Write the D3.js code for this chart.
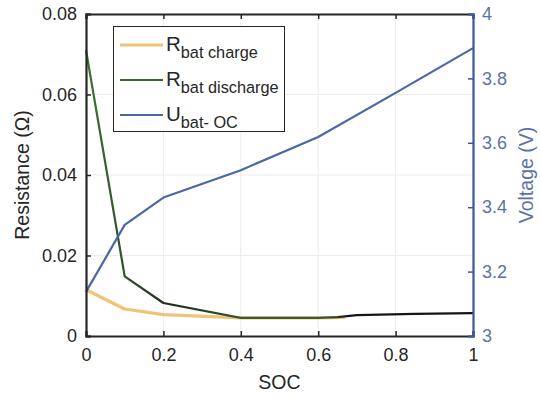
<!DOCTYPE html>
<html>
<head>
<meta charset="utf-8">
<script src="https://cdn.jsdelivr.net/npm/d3@7"></script>
<style>
  html, body { margin: 0; padding: 0; background: #fff; }
  svg { display: block; font-family: "Liberation Sans", Arial, sans-serif; }
</style>
</head>
<body>
<svg id="chart" width="540" height="398"></svg>
<script>
// State of charge samples and the measured battery quantities
const socCharge = [0, 0.1, 0.2, 0.4, 0.6, 0.67];
const rCharge = [0.0115, 0.0067, 0.0053, 0.0045, 0.0045, 0.0046];

const socDischarge = [0, 0.1, 0.2, 0.4, 0.6, 0.65, 0.7, 0.85, 1];
const rDischarge = [0.071, 0.0148, 0.0082, 0.0045, 0.0045, 0.0047, 0.0052, 0.0055, 0.0057];

const socVoltage = [0, 0.1, 0.2, 0.4, 0.6, 0.8, 1];
const uOC = [3.137, 3.345, 3.43, 3.515, 3.618, 3.755, 3.894];

const xTicks = [0, 0.2, 0.4, 0.6, 0.8, 1];
const rTicks = [0, 0.02, 0.04, 0.06, 0.08];
const vTicks = [3, 3.2, 3.4, 3.6, 3.8, 4];

const svg = d3.select("#chart");
const plotL = 86, plotR = 473, plotT = 14, plotB = 336;

const x = d3.scaleLinear().domain([0, 1]).range([plotL, plotR]);
const yR = d3.scaleLinear().domain([0, 0.08]).range([plotB, plotT]);
const yV = d3.scaleLinear().domain([3, 4]).range([plotB, plotT]);

const axisColor = "#262626";
const vColor = "#3d559c";
const vText = "#5c72a6";

// light grid
const grid = svg.append("g").attr("stroke", "#ececec").attr("stroke-width", 1);
xTicks.slice(1, -1).forEach(t => grid.append("line")
  .attr("x1", x(t)).attr("x2", x(t)).attr("y1", plotT).attr("y2", plotB));
rTicks.slice(1, -1).forEach(t => grid.append("line")
  .attr("x1", plotL).attr("x2", plotR).attr("y1", yR(t)).attr("y2", yR(t)));

// data lines
const lineR = (xs, ys) => d3.line().x((d, i) => x(xs[i])).y((d, i) => yR(ys[i]))(xs);

const defs = svg.append("defs");
const grad = defs.append("linearGradient").attr("id", "dischargeGrad")
  .attr("gradientUnits", "userSpaceOnUse")
  .attr("x1", x(0)).attr("x2", x(1)).attr("y1", 0).attr("y2", 0);
grad.append("stop").attr("offset", 0).attr("stop-color", "#3f7236");
grad.append("stop").attr("offset", 0.12).attr("stop-color", "#2c4a29");
grad.append("stop").attr("offset", 0.22).attr("stop-color", "#1f2b1e");
grad.append("stop").attr("offset", 0.4).attr("stop-color", "#3a5a2e");
grad.append("stop").attr("offset", 0.62).attr("stop-color", "#3a5a2e");
grad.append("stop").attr("offset", 0.68).attr("stop-color", "#151515");
grad.append("stop").attr("offset", 1).attr("stop-color", "#151515");

svg.append("path").attr("d", lineR(socCharge, rCharge))
  .attr("fill", "none").attr("stroke", "#efc478").attr("stroke-width", 3.2)
  .attr("stroke-linejoin", "round");

svg.append("path").attr("d", lineR(socDischarge, rDischarge))
  .attr("fill", "none").attr("stroke", "url(#dischargeGrad)").attr("stroke-width", 2.2)
  .attr("stroke-linejoin", "round");

svg.append("path")
  .attr("d", d3.line().x((d, i) => x(socVoltage[i])).y((d, i) => yV(uOC[i]))(socVoltage))
  .attr("fill", "none").attr("stroke", "#4a67a6").attr("stroke-width", 2.2)
  .attr("stroke-linejoin", "round");

// axes (inward ticks)
const fontSize = 18;
const gx = svg.append("g").attr("transform", `translate(0,${plotB})`)
  .call(d3.axisBottom(x).tickValues(xTicks).tickSize(-5).tickPadding(12)
    .tickFormat(d => d === 0 || d === 1 ? String(d) : d3.format(".1f")(d)));
const gxTop = svg.append("g").attr("transform", `translate(0,${plotT})`)
  .call(d3.axisTop(x).tickValues(xTicks).tickSize(-5).tickFormat(""));
const gl = svg.append("g").attr("transform", `translate(${plotL},0)`)
  .call(d3.axisLeft(yR).tickValues(rTicks).tickSize(-5).tickPadding(9)
    .tickFormat(d => d === 0 ? "0" : d3.format(".2f")(d)));
const gr = svg.append("g").attr("transform", `translate(${plotR},0)`)
  .call(d3.axisRight(yV).tickValues(vTicks).tickSize(-5).tickPadding(9)
    .tickFormat(d => d === 3 || d === 4 ? String(d) : d3.format(".1f")(d)));

[gx, gxTop, gl].forEach(g => {
  g.select(".domain").attr("stroke", axisColor).attr("stroke-width", 2.2);
  g.selectAll(".tick line").attr("stroke", axisColor).attr("stroke-width", 1.5);
  g.selectAll(".tick text").attr("fill", axisColor).attr("font-size", fontSize)
    .attr("font-family", "Liberation Sans, Arial, sans-serif");
});
gr.select(".domain").attr("stroke", vColor).attr("stroke-width", 2.2);
gr.selectAll(".tick line").attr("stroke", vColor).attr("stroke-width", 1.5);
gr.selectAll(".tick text").attr("fill", vText).attr("font-size", fontSize)
  .attr("font-family", "Liberation Sans, Arial, sans-serif");

// axis titles
svg.append("text").attr("x", x(0.5)).attr("y", 389).attr("text-anchor", "middle")
  .attr("font-size", 19.5).attr("fill", axisColor).text("SOC");
svg.append("text").attr("transform", `translate(29,${(plotT + plotB) / 2}) rotate(-90)`)
  .attr("text-anchor", "middle").attr("font-size", 19.5).attr("fill", axisColor)
  .text("Resistance (Ω)");
svg.append("text").attr("transform", `translate(533,${(plotT + plotB) / 2}) rotate(-90)`)
  .attr("text-anchor", "middle").attr("font-size", 19.5).attr("fill", vText)
  .text("Voltage (V)");

// legend
const legendItems = [
  { main: "R", sub: "bat charge", color: "#efc478", w: 3.2 },
  { main: "R", sub: "bat discharge", color: "#3a6332", w: 2.2 },
  { main: "U", sub: "bat- OC", color: "#4a67a6", w: 2.2 }
];
const lg = svg.append("g");
lg.append("rect").attr("x", 113.5).attr("y", 26.5).attr("width", 171).attr("height", 105)
  .attr("fill", "#fff").attr("stroke", axisColor).attr("stroke-width", 1);
legendItems.forEach((d, i) => {
  const cy = 45 + i * 35;
  lg.append("line").attr("x1", 120).attr("x2", 163).attr("y1", cy).attr("y2", cy)
    .attr("stroke", d.color).attr("stroke-width", d.w);
  const t = lg.append("text").attr("x", 166).attr("y", cy + 6).attr("fill", axisColor)
    .attr("font-size", 20.5);
  t.append("tspan").text(d.main);
  t.append("tspan").attr("font-size", 16.3).attr("dy", 7).text(d.sub);
});
</script>
</body>
</html>
